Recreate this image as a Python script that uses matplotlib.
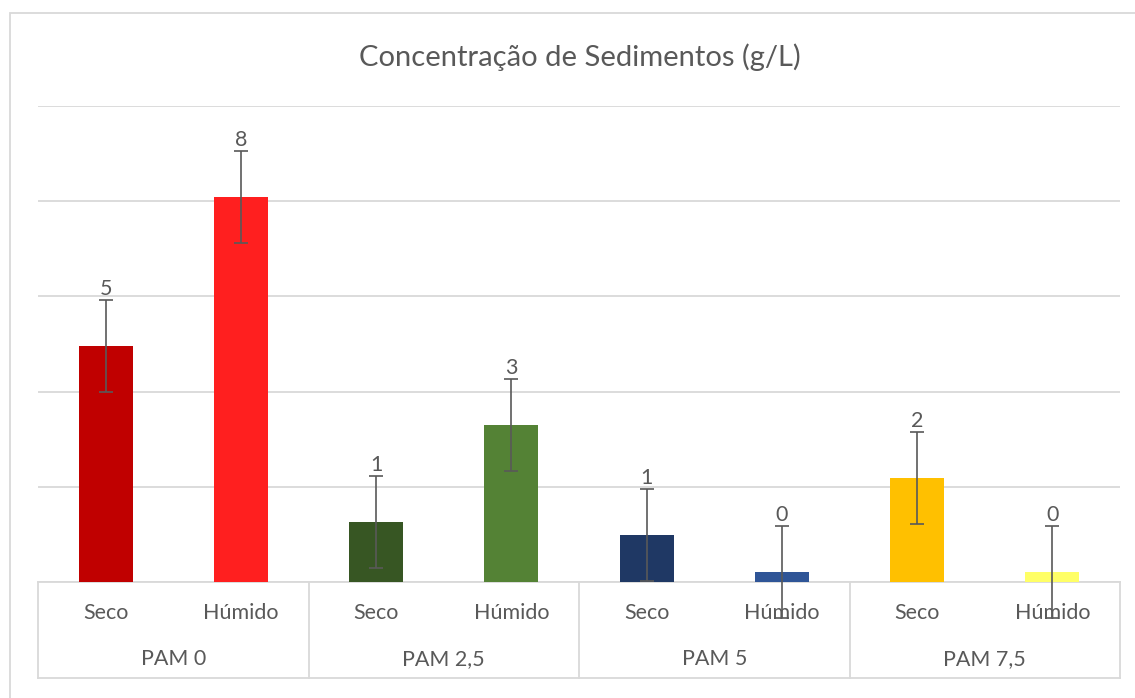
import numpy as np
import matplotlib.pyplot as plt
from matplotlib.patches import Rectangle

plt.rcParams['font.family'] = ['Lato', 'DejaVu Sans']

# dados
grupos = ['PAM 0', 'PAM 2,5', 'PAM 5', 'PAM 7,5']
estados = ['Seco', 'Húmido']
valores = [4.96, 8.09, 1.26, 3.30, 0.99, 0.21, 2.18, 0.21]
erros = [0.97, 0.97, 0.97, 0.97, 0.97, 0.97, 0.97, 0.97]
cores = ['#C00000', '#FF1F1F', '#375623', '#548235',
         '#1F3864', '#2F5597', '#FFC000', '#FFFF66']

cinza = '#595959'
linha = '#D9D9D9'

fig = plt.figure(figsize=(11.35, 6.98), dpi=100)
W, H = 1135, 698
x0, x1, yb, yt = 38, 1120, 582, 106
ax = fig.add_axes([x0 / W, 1 - yb / H, (x1 - x0) / W, (yb - yt) / H])

x = np.arange(len(valores))
ax.bar(x, valores, width=0.4, color=cores, zorder=3)
ax.errorbar(x, valores, yerr=erros, fmt='none', ecolor=cinza, elinewidth=1.2,
            capsize=5, capthick=1.2, zorder=4, clip_on=False)
for xi, v, e in zip(x, valores, erros):
    ax.annotate(f'{round(v):d}', (xi, v + e), xytext=(0, 0.5), textcoords='offset points',
                ha='center', va='bottom', fontsize=15.5, color=cinza)

ax.set_xlim(-0.5, len(valores) - 0.5)
ax.set_ylim(0, 10)
ax.set_yticks(np.arange(0, 11, 2))
ax.yaxis.grid(True, color=linha, lw=1.3, zorder=0)
ax.tick_params(left=False, labelleft=False, bottom=False, labelbottom=False)
for s in ['top', 'right', 'left']:
    ax.spines[s].set_visible(False)
ax.spines['bottom'].set_color(linha)
ax.spines['bottom'].set_linewidth(1.3)

# eixo de categorias em dois níveis
fy = lambda py: 1 - py / H
fx = lambda px: px / W
ybot = 678
fig.add_artist(plt.Line2D([fx(x0), fx(x1)], [fy(ybot), fy(ybot)], color=linha, lw=1.3))
for i in range(len(grupos) + 1):
    px = x0 + i * (x1 - x0) / len(grupos)
    fig.add_artist(plt.Line2D([fx(px), fx(px)], [fy(yb), fy(ybot)], color=linha, lw=1.3))
for i, xi in enumerate(x):
    px = x0 + (xi + 0.5) * (x1 - x0) / len(valores)
    fig.text(fx(px), fy(613), estados[i % 2], ha='center', va='center', fontsize=15.5, color=cinza)
for g, nome in enumerate(grupos):
    px = x0 + (g + 0.5) * (x1 - x0) / len(grupos)
    fig.text(fx(px), fy(659), nome, ha='center', va='center', fontsize=15.5, color=cinza)

# moldura do gráfico (direita e baixo fora da imagem)
fig.add_artist(Rectangle((fx(9.5), -0.05), 1.2, fy(13) + 0.05, transform=fig.transFigure,
                         fill=False, edgecolor=linha, lw=1.3))

fig.text(fx(580), fy(57), 'Concentração de Sedimentos (g/L)', ha='center', va='center',
         fontsize=21, color=cinza)

fig.savefig('out.png', dpi=100)
